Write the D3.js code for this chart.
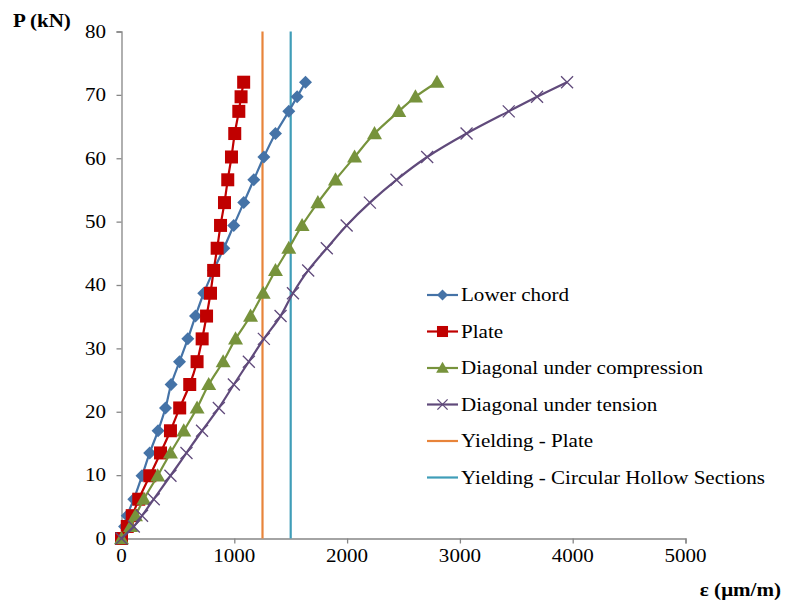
<!DOCTYPE html>
<html><head><meta charset="utf-8">
<script src="https://cdn.jsdelivr.net/npm/d3@7"></script>
<style>body{margin:0;background:#fff}svg{display:block}</style>
</head><body>
<svg id="c" width="785" height="601"></svg>
<script>
const loads = [0, 1.9, 3.6, 6.2, 9.9, 13.5, 17.0, 20.6, 24.3, 27.9, 31.5, 35.1, 38.7, 42.3, 45.8, 49.4, 53.0, 56.6, 60.2, 63.9, 67.4, 69.7, 72.0];
const lowerChord = [0, 27, 51, 109, 182, 250, 324, 390, 440, 514, 588, 656, 729, 816, 907, 995, 1084, 1173, 1262, 1365, 1483, 1557, 1631];
const plate = [0, 51, 95, 153, 251, 346, 434, 516, 605, 670, 715, 754, 789, 817, 848, 878, 913, 942, 975, 1004, 1040, 1060, 1083];
const diagComp = [0, 80, 124, 198, 321, 434, 552, 670, 773, 901, 1011, 1144, 1256, 1365, 1483, 1601, 1741, 1897, 2066, 2243, 2458, 2606, 2797];
const diagTens = [0, 109, 182, 286, 434, 576, 714, 863, 996, 1129, 1262, 1410, 1520, 1655, 1820, 1996, 2202, 2438, 2710, 3059, 3433, 3684, 3950];
const yieldPlate = 1250;
const yieldCHS = 1500;
const xTicks = [0, 1000, 2000, 3000, 4000, 5000];
const yTicks = [0, 10, 20, 30, 40, 50, 60, 70, 80];
const seriesNames = ["Lower chord", "Plate", "Diagonal under compression", "Diagonal under tension", "Yielding - Plate", "Yielding - Circular Hollow Sections"];
const colors = ["#4573A7", "#C00000", "#77933C", "#604A7B", "#E8843A", "#3F9DB8"];

const svg = d3.select("#c");
const font = "Liberation Serif, Times New Roman, DejaVu Serif, serif";
const SX = 1.17;
const x = d3.scaleLinear().domain([0, 5000]).range([121.5, 685.5]);
const y = d3.scaleLinear().domain([0, 80]).range([538.5, 31.5]);

function txt(tx, ty, s, anchor, opts) {
  opts = opts || {};
  const t = svg.append("text").attr("transform", `translate(${tx},${ty}) scale(${SX},1)`)
    .attr("text-anchor", anchor).style("font-family", font).attr("font-size", opts.size || 18)
    .attr("fill", "#000").text(s);
  if (opts.bold) t.attr("font-weight", "bold");
  if (opts.dy) t.attr("dy", opts.dy);
  return t;
}

// axes
const gx = svg.append("g").attr("transform", `translate(0,${y(0)})`)
  .call(d3.axisBottom(x).tickValues(xTicks).tickSize(5).tickFormat(""));
const gy = svg.append("g").attr("transform", `translate(${x(0)},0)`)
  .call(d3.axisLeft(y).tickValues(yTicks).tickSize(5).tickFormat(""));
[gx, gy].forEach(g => {
  g.select(".domain").attr("stroke", "#868686").attr("stroke-width", 1.3);
  g.selectAll(".tick line").attr("stroke", "#868686").attr("stroke-width", 1.3);
});
xTicks.forEach(v => txt(x(v), 562, d3.format("d")(v), "middle"));
yTicks.forEach(v => txt(106, y(v), d3.format("d")(v), "end", {dy: "0.35em"}));

// axis titles
txt(13, 27, "P (kN)", "start", {bold: true});
txt(781, 596, "ε (μm/m)", "end", {bold: true});

// yield lines
[[yieldPlate, colors[4]], [yieldCHS, colors[5]]].forEach(([v, c]) => {
  svg.append("line").attr("x1", x(v)).attr("x2", x(v)).attr("y1", y(80)).attr("y2", y(0))
    .attr("stroke", c).attr("stroke-width", 2.2);
});

const series = [lowerChord, plate, diagComp, diagTens];
const shapes = ["diamond", "square", "triangle", "cross"];
const line = d3.line().curve(d3.curveMonotoneY);

function marker(g, shape, color, cx, cy, s) {
  s = s || 1;
  if (shape === "diamond") {
    const h = 6.5 * s;
    g.append("path").attr("d", `M${cx},${cy - h}L${cx + h},${cy}L${cx},${cy + h}L${cx - h},${cy}Z`).attr("fill", color);
  } else if (shape === "square") {
    const h = 6.5 * s;
    g.append("rect").attr("x", cx - h).attr("y", cy - h).attr("width", 2 * h).attr("height", 2 * h).attr("fill", color);
  } else if (shape === "triangle") {
    const h = 7.5 * s;
    g.append("path").attr("d", `M${cx},${cy - h}L${cx + h},${cy + h * 0.75}L${cx - h},${cy + h * 0.75}Z`).attr("fill", color);
  } else {
    const h = 6 * s;
    g.append("path").attr("d", `M${cx - h},${cy - h}L${cx + h},${cy + h}M${cx - h},${cy + h}L${cx + h},${cy - h}`)
      .attr("stroke", color).attr("stroke-width", 1.3).attr("fill", "none");
  }
}

series.forEach((vals, i) => {
  const g = svg.append("g");
  const pts = vals.map((v, k) => [x(v), y(loads[k])]);
  g.append("path").attr("d", line(pts)).attr("fill", "none").attr("stroke", colors[i]).attr("stroke-width", 2.2);
  pts.forEach(p => marker(g, shapes[i], colors[i], p[0], p[1], 1));
});

// legend
seriesNames.forEach((name, i) => {
  const ly = 295 + i * 36.5;
  svg.append("line").attr("x1", 427).attr("x2", 458).attr("y1", ly).attr("y2", ly)
    .attr("stroke", colors[i]).attr("stroke-width", 2.2);
  if (i < 4) marker(svg, shapes[i], colors[i], 442.5, ly, 0.85);
  txt(461, ly, name, "start", {dy: "0.35em"});
});
</script>
</body></html>
